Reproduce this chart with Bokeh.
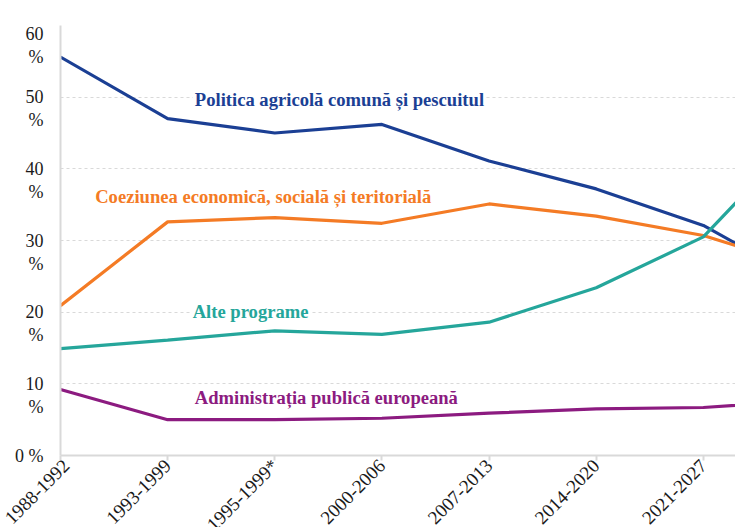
import math
from bokeh.plotting import figure
from bokeh.models import Range1d, FixedTicker, Label
from bokeh.embed import file_html
from bokeh.resources import INLINE

# ---- data ----
categories = ["1988-1992", "1993-1999", "1995-1999*", "2000-2006",
              "2007-2013", "2014-2020", "2021-2027", "2028-2034"]
politica_agricola = [55.6, 47.0, 45.0, 46.2, 41.1, 37.2, 32.1, 23.8]
coeziune = [20.9, 32.6, 33.2, 32.4, 35.1, 33.4, 30.7, 26.0]
alte_programe = [14.9, 16.1, 17.4, 16.9, 18.6, 23.4, 30.5, 46.2]
administratie = [9.2, 5.0, 5.0, 5.2, 5.9, 6.5, 6.7, 7.7]

y_ticks = [0, 10, 20, 30, 40, 50, 60]
y_tick_labels = ["0 %", "\n10\n%", "\n20\n%", "\n30\n%", "\n40\n%", "\n50\n%", "\n60\n%"]
visible_categories = 7

series_names = ["Politica agricolă comună și pescuitul",
                "Coeziunea economică, socială și teritorială",
                "Alte programe",
                "Administrația publică europeană"]

# ---- styles ----
BLUE = "#1b3f94"
ORANGE = "#f47b25"
TEAL = "#25a69b"
PURPLE = "#8c1b80"
GRID = "#d9d9d9"
SERIF = "Liberation Serif"

xs = list(range(len(categories)))

p = figure(frame_width=675, frame_height=430, output_backend="svg", toolbar_location=None,
           x_range=Range1d(0, 6.30), y_range=Range1d(0, 60),
           min_border_left=60, min_border_right=0, min_border_top=25,
           min_border_bottom=0)
p.outline_line_color = None
p.background_fill_color = "white"
p.border_fill_color = "white"

p.xgrid.visible = False
p.yaxis.ticker = FixedTicker(ticks=y_ticks)
p.ygrid.grid_line_color = GRID
p.ygrid.grid_line_dash = "3 3"
p.ygrid.grid_line_width = 1

# x axis
p.xaxis.ticker = FixedTicker(ticks=list(range(visible_categories)))
p.xaxis.major_label_overrides = {i: categories[i] for i in range(visible_categories)}
p.xaxis.major_label_orientation = math.pi / 4
p.xaxis.major_label_text_font = SERIF
p.xaxis.major_label_text_font_size = "19px"
p.xaxis.major_label_text_color = "#1a1a1a"
p.xaxis.major_label_text_align = "right"
p.xaxis.major_label_text_baseline = "top"
p.xaxis.major_label_standoff = 2
p.xaxis.axis_line_color = GRID
p.xaxis.axis_line_width = 2
p.xaxis.major_tick_line_color = GRID
p.xaxis.major_tick_line_width = 2
p.xaxis.major_tick_out = 5
p.xaxis.major_tick_in = 0
p.xaxis.minor_tick_line_color = None

# y axis
p.yaxis.major_label_overrides = dict(zip(y_ticks, y_tick_labels))
p.yaxis.major_label_text_font = SERIF
p.yaxis.major_label_text_font_size = "18px"
p.yaxis.major_label_text_line_height = 1.15
p.yaxis.major_label_text_color = "#1a1a1a"
p.yaxis.major_label_standoff = 11
p.yaxis.axis_line_color = GRID
p.yaxis.axis_line_width = 2
p.yaxis.major_tick_line_color = None
p.yaxis.minor_tick_line_color = None

# lines
for vals, col in [(politica_agricola, BLUE), (coeziune, ORANGE),
                  (alte_programe, TEAL), (administratie, PURPLE)]:
    p.line(xs, vals, line_color=col, line_width=3.2)

# series labels
label_pos = [(1.235, 49.7), (0.305, 36.1), (1.215, 20.1), (1.235, 8.1)]
for name, (lx, ly), col in zip(series_names, label_pos, [BLUE, ORANGE, TEAL, PURPLE]):
    p.add_layout(Label(x=lx, y=ly, text=name, text_font=SERIF, text_font_size="18.6px",
                       text_font_style="bold", text_color=col, text_align="left",
                       text_baseline="middle", background_fill_color="white",
                       padding=2))

open("out.html", "w").write(file_html(p, INLINE))
